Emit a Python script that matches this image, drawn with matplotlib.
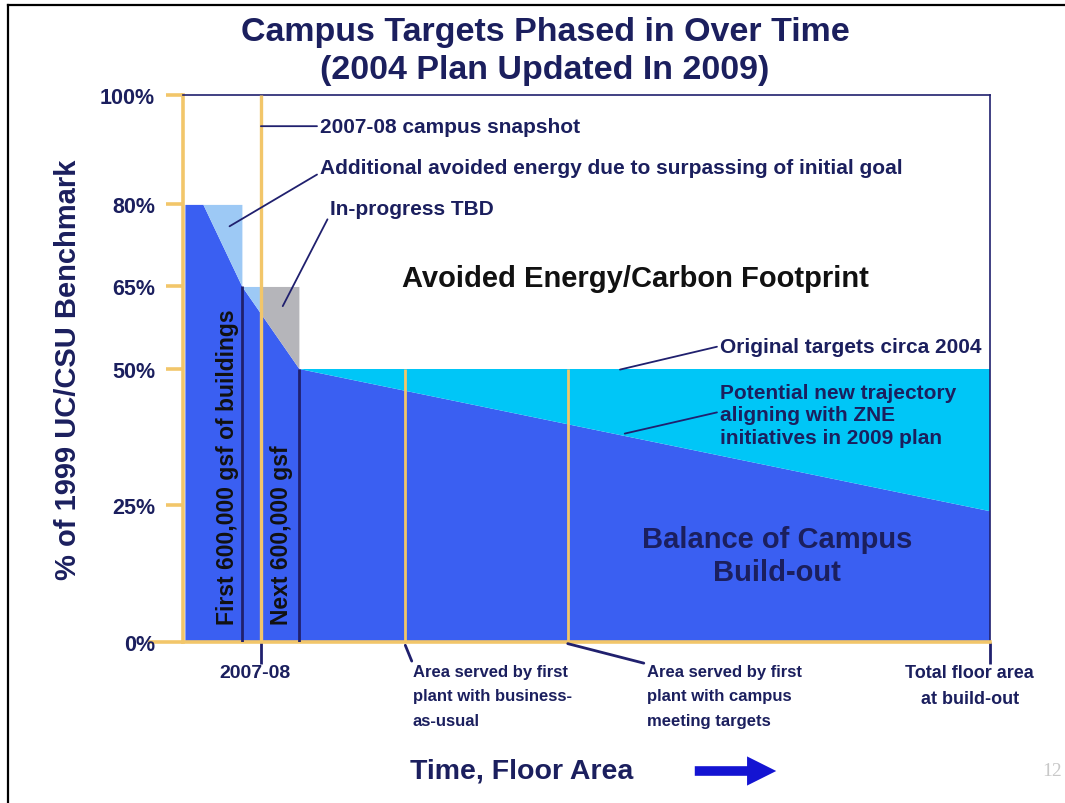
import numpy as np
import matplotlib.pyplot as plt
from matplotlib.lines import Line2D

plt.rcParams['font.family'] = ['Liberation Sans', 'DejaVu Sans']

# x = floor area (million gsf), y = energy use as % of 1999 UC/CSU benchmark
traj_x = [0.0, 0.19, 0.6, 1.2, 8.47]      # potential new trajectory
traj_y = [80, 80, 65, 50, 24]
target_edges = [0.0, 0.6, 0.8, 1.2, 8.47]  # original targets (stepped)
target_tops = [80, 65, 65, 50]
phase_x = [0.6, 1.2]        # first / next 600,000 gsf
phase_top = [65, 50]
snapshot_x = 0.8            # 2007-08 campus snapshot
plant_x = [2.32, 4.03]      # area served by first plant
buildout_x = 8.47
yticks = [0, 25, 50, 65, 80, 100]
ytick_labels = ['0%', '25%', '50%', '65%', '80%', '100%']

navy = '#1b1f5e'
navy_line = '#20206e'
dark_blue = '#3a5ff2'
cyan = '#00c6f7'
light_blue = '#9dc9f5'
gray = '#b5b5ba'
yellow = '#f2c66a'
region_colors = [light_blue, light_blue, gray, cyan]

W, H = 1065, 804
fig = plt.figure(figsize=(W / 100, H / 100), dpi=100)
ax = fig.add_axes([183 / W, 1 - 643 / H, (990 - 183) / W, (643 - 96) / H])
ax.set_xlim(-0.02, 8.475)
ax.set_ylim(0, 100)

# balance of campus build-out
ax.fill_between(traj_x, traj_y, 0, color=dark_blue, lw=0, zorder=1)
# avoided energy regions between trajectory and original targets
for a, b, top, c in zip(target_edges[:-1], target_edges[1:], target_tops, region_colors):
    xs = [a] + [x for x in traj_x if a < x < b] + [b]
    ys = np.interp(xs, traj_x, traj_y)
    ax.fill_between(xs, ys, top, color=c, lw=0, zorder=1)

ax.vlines(phase_x, 0, phase_top, color=navy_line, lw=2, zorder=3)
ax.vlines(snapshot_x, 0, 100, color=yellow, lw=2.4, zorder=3)
ax.vlines(plant_x, 0, 50, color=yellow, lw=2, zorder=3)

for s in ['left', 'bottom']:
    ax.spines[s].set_color(yellow)
    ax.spines[s].set_linewidth(2.6)
for s in ['top', 'right']:
    ax.spines[s].set_color(navy_line)
    ax.spines[s].set_linewidth(1.2)

ax.set_yticks(yticks)
ax.set_yticklabels(ytick_labels, fontsize=15.5, fontweight='bold', color=navy)
ax.tick_params(axis='y', length=12, width=2.6, color=yellow, pad=8)
ax.yaxis.get_major_ticks()[0].tick1line.set_markersize(25)
ax.set_xticks([snapshot_x, buildout_x])
ax.set_xticklabels([])
ax.tick_params(axis='x', length=16, width=2, color=navy_line)

lead = dict(arrowstyle='-', color=navy_line, lw=1.3, shrinkA=0, shrinkB=0)
kw = dict(fontsize=15, fontweight='bold', color=navy, annotation_clip=False)
ax.annotate('2007-08 campus snapshot', xy=(snapshot_x, 94.3), xytext=(1.42, 94.3),
            ha='left', va='center', arrowprops=dict(lead, relpos=(0, 0.5)), **kw)
ax.annotate('Additional avoided energy due to surpassing of initial goal', xy=(0.47, 76.0),
            xytext=(1.42, 86.8), ha='left', va='center',
            arrowprops=dict(lead, relpos=(0, 0.2)), **kw)
ax.annotate('In-progress TBD', xy=(1.03, 61.4), xytext=(1.53, 79.3), ha='left', va='center',
            arrowprops=dict(lead, relpos=(0, 0.2)), **kw)
ax.annotate('Original targets circa 2004', xy=(4.58, 49.8), xytext=(5.63, 54.1),
            ha='left', va='center', arrowprops=dict(lead, relpos=(0, 0.5)), **kw)
ax.annotate('Potential new trajectory\naligning with ZNE\ninitiatives in 2009 plan',
            xy=(4.63, 38.1), xytext=(5.63, 41.5), ha='left', va='center', linespacing=1.26,
            arrowprops=dict(lead, relpos=(0, 0.55)), **kw)

ax.text(4.74, 66.6, 'Avoided Energy/Carbon Footprint', ha='center', va='center',
        fontsize=21, fontweight='bold', color='#111111')
ax.text(6.23, 15.8, 'Balance of Campus\nBuild-out', ha='center', va='center',
        fontsize=21, fontweight='bold', color=navy, linespacing=1.26)
ax.text(0.45, 32.2, 'First 600,000 gsf of buildings', rotation=90, ha='center', va='center',
        fontsize=16.5, fontweight='bold', color='#111111')
ax.text(1.02, 19.8, 'Next 600,000 gsf', rotation=90, ha='center', va='center',
        fontsize=16.5, fontweight='bold', color='#111111')

bkw = dict(fontsize=12, fontweight='bold', color=navy, annotation_clip=False,
           ha='left', va='top', linespacing=1.8)
ax.text(0.74, -4.0, '2007-08', ha='center', va='top', fontsize=14, fontweight='bold',
        color=navy, clip_on=False)
ax.annotate('Area served by first\nplant with business-\nas-usual', xy=(plant_x[0], -0.6),
            xytext=(2.40, -4.0), arrowprops=dict(lead, lw=2, relpos=(0, 1)), **bkw)
ax.annotate('Area served by first\nplant with campus\nmeeting targets', xy=(plant_x[1], -0.3),
            xytext=(4.86, -4.0), arrowprops=dict(lead, lw=2, relpos=(0, 1)), **bkw)
ax.text(8.26, -4.0, 'Total floor area\nat build-out', ha='center', va='top', fontsize=13,
        fontweight='bold', color=navy, linespacing=1.7, multialignment='center', clip_on=False)

fig.text(68 / W, 1 - 370 / H, '% of 1999 UC/CSU Benchmark', rotation=90, ha='center',
         va='center', fontsize=21, fontweight='bold', color=navy)
fig.text(545 / W, 1 - 32 / H, 'Campus Targets Phased in Over Time', ha='center', va='center',
         fontsize=24.5, fontweight='bold', color=navy)
fig.text(545 / W, 1 - 71 / H, '(2004 Plan Updated In 2009)', ha='center', va='center',
         fontsize=24.5, fontweight='bold', color=navy)
fig.text(522 / W, 1 - 772 / H, 'Time, Floor Area', ha='center', va='center',
         fontsize=20.5, fontweight='bold', color=navy)
fig.text(1062 / W, 1 - 772 / H, '12', ha='right', va='center', fontsize=14,
         color='#c8c8c8', family='Liberation Serif')
fig.add_artist(plt.matplotlib.patches.FancyArrowPatch(
    (692 / W, 1 - 772 / H), (779 / W, 1 - 772 / H), transform=fig.transFigure,
    arrowstyle='simple,head_length=1.0,head_width=1.0,tail_width=0.33',
    mutation_scale=21, color='#1414d2', lw=0))

# slide frame
fig.add_artist(Line2D([8 / W, 1], [1 - 6 / H, 1 - 6 / H], transform=fig.transFigure,
                      color='black', lw=1.6))
fig.add_artist(Line2D([8 / W, 8 / W], [0, 1 - 6 / H], transform=fig.transFigure,
                      color='black', lw=1.6))

fig.savefig('out.png', dpi=100)
